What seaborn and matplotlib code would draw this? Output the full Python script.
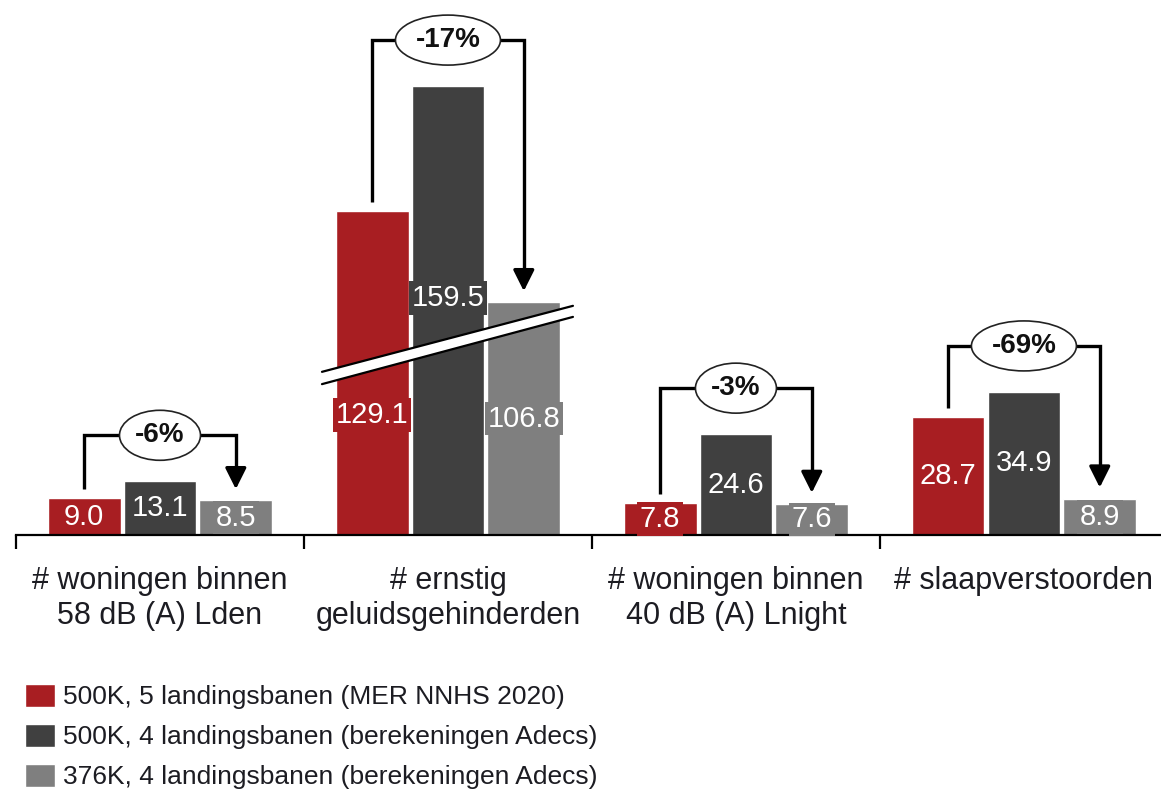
import numpy as np
import pandas as pd
import matplotlib
matplotlib.use('Agg')
import matplotlib.pyplot as plt
from matplotlib.patches import Ellipse, Polygon
import seaborn as sns

# categories and series
categories = ['# woningen binnen\n58 dB (A) Lden', '# ernstig\ngeluidsgehinderden',
              '# woningen binnen\n40 dB (A) Lnight', '# slaapverstoorden']
series = ['500K, 5 landingsbanen (MER NNHS 2020)',
          '500K, 4 landingsbanen (berekeningen Adecs)',
          '376K, 4 landingsbanen (berekeningen Adecs)']
mer_500k_5 = [9.0, 129.1, 7.8, 28.7]
adecs_500k_4 = [13.1, 159.5, 24.6, 34.9]
adecs_376k_4 = [8.5, 106.8, 7.6, 8.9]
changes = ['-6%', '-17%', '-3%', '-69%']

colors = ['#A81E22', '#404040', '#7F7F7F']
axis_break = 50   # amount cut out of the bars of the second group
broken_cat = 1

values = [mer_500k_5, adecs_500k_4, adecs_376k_4]
rows = []
for s, vals in zip(series, values):
    for j, (c, v) in enumerate(zip(categories, vals)):
        shown = v - axis_break if j == broken_cat else v
        rows.append({'cat': c, 'serie': s, 'value': v, 'shown': shown})
df = pd.DataFrame(rows)

sns.set_theme(style='white')
plt.rcParams['font.family'] = ['Liberation Sans', 'DejaVu Sans']

fig = plt.figure(figsize=(11.61, 7.98), dpi=100)
ax = fig.add_axes([16 / 1161, (798 - 535) / 798, 1 - 16 / 1161, 535 / 798])

sns.barplot(data=df, x='cat', y='shown', hue='serie', order=categories, hue_order=series,
            palette=colors, saturation=1, width=0.79, gap=0.04, ax=ax)

ax.set_xlim(-0.5, 3.476)
ax.set_ylim(0, 130.5)
ax.set_xlabel('')
ax.set_ylabel('')
ax.set_yticks([])
for sp in ['left', 'top', 'right']:
    ax.spines[sp].set_visible(False)
ax.spines['bottom'].set_color('black')
ax.spines['bottom'].set_linewidth(1.6)

ax.set_xticks(range(len(categories)))
ax.set_xticklabels(categories, fontsize=22, color='#1c1c22', linespacing=1.25)
ax.tick_params(axis='x', which='major', length=0, pad=22)
ax.set_xticks(np.arange(len(categories)) - 0.5, minor=True)
ax.tick_params(axis='x', which='minor', length=10, width=1.6, color='black', bottom=True)

# value labels in boxes of the bar colour
label_y = {(0, broken_cat): 29.3, (1, broken_cat): 57.8}
for i, cont in enumerate(ax.containers):
    for j, bar in enumerate(cont):
        x = bar.get_x() + bar.get_width() / 2
        y = label_y.get((i, j), bar.get_height() / 2)
        ax.text(x, y, f'{values[i][j]:.1f}', ha='center', va='center', fontsize=21,
                color='white', zorder=6,
                bbox=dict(boxstyle='square,pad=0.1', fc=colors[i], ec='none'))

# break marker across the second group
bx0, bx1 = broken_cat - 0.4375, broken_cat + 0.434
band = Polygon([(bx0, 36.8), (bx1, 53.2), (bx1, 55.9), (bx0, 39.8)],
               closed=True, fc='white', ec='none', zorder=4)
ax.add_patch(band)
ax.plot([bx0, bx1], [39.8, 55.9], color='black', lw=1.6, zorder=5)
ax.plot([bx0, bx1], [36.8, 53.2], color='black', lw=1.6, zorder=5)

# brackets with percentage change
px_x = (3.476 + 0.5) / (1161 - 16)
px_y = 130.5 / 535
for j, txt in enumerate(changes):
    b0 = ax.containers[0][j]
    b2 = ax.containers[2][j]
    x0 = b0.get_x() + b0.get_width() / 2
    x2 = b2.get_x() + b2.get_width() / 2
    top = max(c[j].get_height() for c in ax.containers) + 46 * px_y
    y0 = b0.get_height() + 9 * px_y
    y2 = b2.get_height() + 11 * px_y
    ax.plot([x0, x0, x2, x2], [y0, top, top, y2 + 12 * px_y], color='black', lw=2.4,
            solid_joinstyle='miter', solid_capstyle='butt', zorder=7)
    ax.annotate('', xy=(x2, y2), xytext=(x2, y2 + 14 * px_y),
                arrowprops=dict(arrowstyle='-|>', lw=2.4, color='black',
                                mutation_scale=32, shrinkA=0, shrinkB=0), zorder=7)
    w = (81 + 24 * (len(txt) - 3)) * px_x
    ell = Ellipse((j, top), w, 50 * px_y, fc='white', ec='#222222', lw=1.2, zorder=8)
    ax.add_patch(ell)
    ax.text(j, top, txt, ha='center', va='center', fontsize=20, fontweight='bold',
            color='#111111', zorder=9)

handles, labels = ax.get_legend_handles_labels()
ax.get_legend().remove()
fig.legend(handles, labels, loc='upper left', bbox_to_anchor=(25 / 1161, 1 - 684 / 798),
           frameon=False, fontsize=19, handlelength=1.15, handleheight=0.95,
           handletextpad=0.3, labelspacing=0.55, borderpad=0, borderaxespad=0,
           labelcolor='#1c1c22')

fig.savefig('out.png', dpi=100)
